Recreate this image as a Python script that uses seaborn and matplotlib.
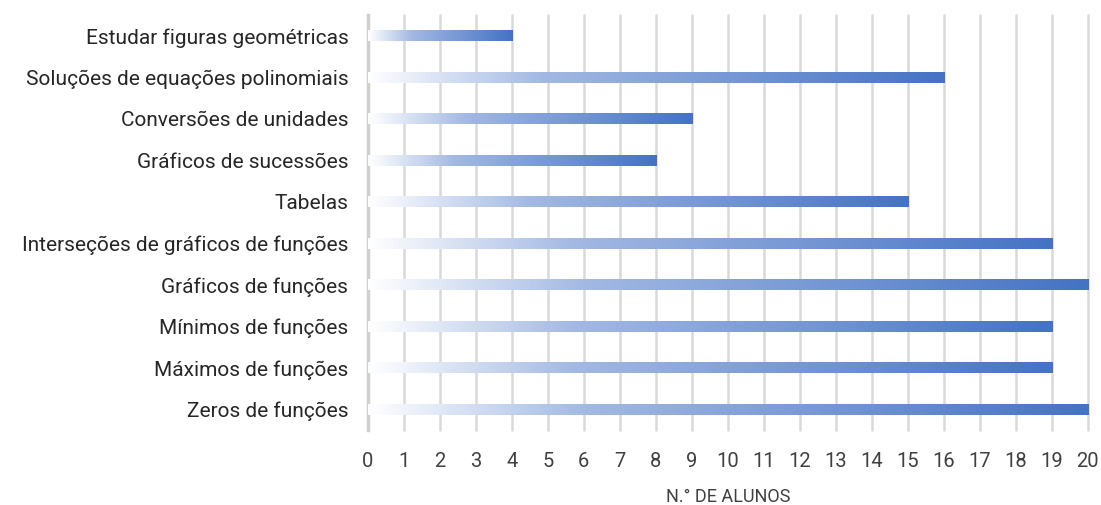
import matplotlib
matplotlib.use("Agg")
import matplotlib.pyplot as plt
import seaborn as sns
import numpy as np
import pandas as pd
from matplotlib.colors import LinearSegmentedColormap

categories = [
    "Estudar figuras geométricas",
    "Soluções de equações polinomiais",
    "Conversões de unidades",
    "Gráficos de sucessões",
    "Tabelas",
    "Interseções de gráficos de funções",
    "Gráficos de funções",
    "Mínimos de funções",
    "Máximos de funções",
    "Zeros de funções",
]
values = [4, 16, 9, 8, 15, 19, 20, 19, 19, 20]
x_ticks = list(range(0, 21))
x_label = "N.° DE ALUNOS"

sns.set_theme(style="white")
plt.rcParams["font.family"] = ["Roboto", "DejaVu Sans"]

df = pd.DataFrame({"cat": categories, "val": values})

fig = plt.figure(figsize=(11.01, 5.05), dpi=100)
ax = fig.add_axes([0.334, 0.1485, 0.654, 0.8215])

sns.barplot(data=df, y="cat", x="val", orient="h", color="#4472C4", width=0.26, ax=ax)

ax.set_xlim(0, 20)
ax.set_ylim(9.5, -0.5)
ax.set_xticks(x_ticks)
ax.set_xticklabels([str(t) for t in x_ticks], fontsize=14.5, color="#404040")
ax.tick_params(axis="y", labelsize=15, labelcolor="#262626", length=0, pad=14)
ax.tick_params(axis="x", length=0, pad=16)
ax.set_ylabel("")
ax.set_xlabel(x_label, fontsize=13, color="#404040", labelpad=12)

ax.xaxis.grid(True, color="#d9d9d9", linewidth=1.8)
for gl in ax.get_xgridlines():
    gl.set_clip_on(False)
ax.set_axisbelow(True)
for s in ["top", "right", "bottom"]:
    ax.spines[s].set_visible(False)
ax.spines["left"].set_color("#cfcfcf")
ax.spines["left"].set_linewidth(2.5)

cmap = LinearSegmentedColormap.from_list(
    "grad", [(0.0, "#ffffff"), (0.3, "#a3b9e3"), (1.0, "#4472C4")])
grad = np.linspace(0, 1, 256).reshape(1, -1)
for p in ax.patches:
    x0, y0 = p.get_x(), p.get_y()
    w, h = p.get_width(), p.get_height()
    p.set_facecolor("none")
    p.set_edgecolor("none")
    im = ax.imshow(grad, cmap=cmap, aspect="auto", extent=[x0, x0 + w, y0 + h, y0],
                   zorder=3, interpolation="bilinear")
    im.set_clip_path(p)

ax.set_xlim(0, 20)
ax.set_ylim(9.5, -0.5)

fig.savefig("out.png", dpi=100)
